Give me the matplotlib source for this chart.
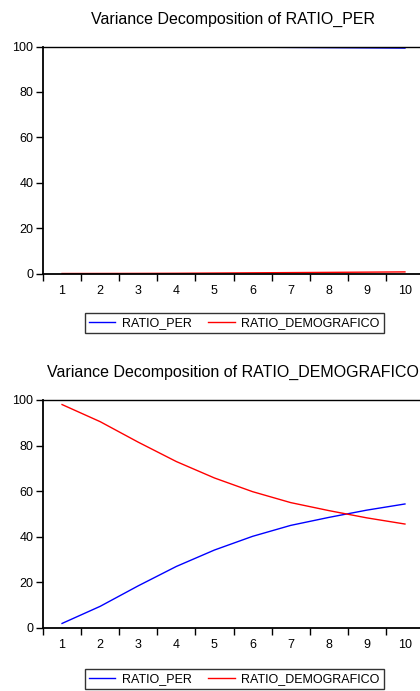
import matplotlib
matplotlib.use("Agg")
import matplotlib.pyplot as plt
import numpy as np

plt.rcParams['font.family'] = ['Liberation Sans', 'DejaVu Sans']

periods = [1, 2, 3, 4, 5, 6, 7, 8, 9, 10]
series_names = ["RATIO_PER", "RATIO_DEMOGRAFICO"]

# Variance decomposition of RATIO_PER
per_from_per = [100.0, 99.98, 99.95, 99.9, 99.8, 99.7, 99.6, 99.5, 99.4, 99.3]
per_from_demo = [0.0, 0.02, 0.05, 0.1, 0.2, 0.3, 0.4, 0.5, 0.6, 0.7]

# Variance decomposition of RATIO_DEMOGRAFICO
demo_from_per = [2.0, 9.5, 18.5, 27.0, 34.2, 40.2, 45.0, 48.5, 51.7, 54.4]
demo_from_demo = [98.0, 90.5, 81.5, 73.0, 65.8, 59.8, 55.0, 51.5, 48.3, 45.6]

titles = ["Variance Decomposition of RATIO_PER",
          "Variance Decomposition of RATIO_DEMOGRAFICO"]

W, H = 420, 691
fig = plt.figure(figsize=(W / 100, H / 100), dpi=100)

def px_axes(left, top, right, bottom):
    return fig.add_axes([left / W, 1 - bottom / H, (right - left) / W, (bottom - top) / H])

panels = [
    (px_axes(43, 46.5, 424, 273.5), per_from_per, per_from_demo, titles[0], 19, 233, 323),
    (px_axes(43, 400, 424, 628), demo_from_per, demo_from_demo, titles[1], 372, 233, 679),
]

for ax, blue, red, title, ty, tx, ly in panels:
    l1, = ax.plot(periods, blue, color=(0, 0, 1), lw=1.0)
    l2, = ax.plot(periods, red, color=(1, 0, 0), lw=1.0)
    ax.set_xlim(0.5, 10.5)
    ax.set_ylim(0, 100)
    ax.set_yticks([0, 20, 40, 60, 80, 100])
    ax.set_xticks(periods)
    ax.set_xticks(np.arange(0.5, 10.6, 1.0), minor=True)
    ax.tick_params(axis='x', which='major', length=0, pad=8, labelsize=9)
    ax.tick_params(axis='x', which='minor', length=5, width=1.0, direction='out')
    ax.tick_params(axis='y', which='major', length=5, width=1.0, direction='out', labelsize=9, pad=2)
    for s in ['left', 'bottom']:
        ax.spines[s].set_linewidth(1.3)
    ax.spines['top'].set_linewidth(1.0)
    ax.spines['right'].set_visible(False)
    fig.text(tx / W, 1 - ty / H, title, ha='center', va='center', fontsize=11.5)
    leg = fig.legend([l1, l2], series_names, loc='center', bbox_to_anchor=(234.5 / W, 1 - ly / H),
                     ncol=2, frameon=True, fancybox=False, fontsize=9, handlelength=2.1,
                     columnspacing=1.3, handletextpad=0.55, borderpad=0.35, borderaxespad=0)
    leg.get_frame().set_edgecolor('black')
    leg.get_frame().set_linewidth(1.0)

fig.savefig("out.png", dpi=100)
